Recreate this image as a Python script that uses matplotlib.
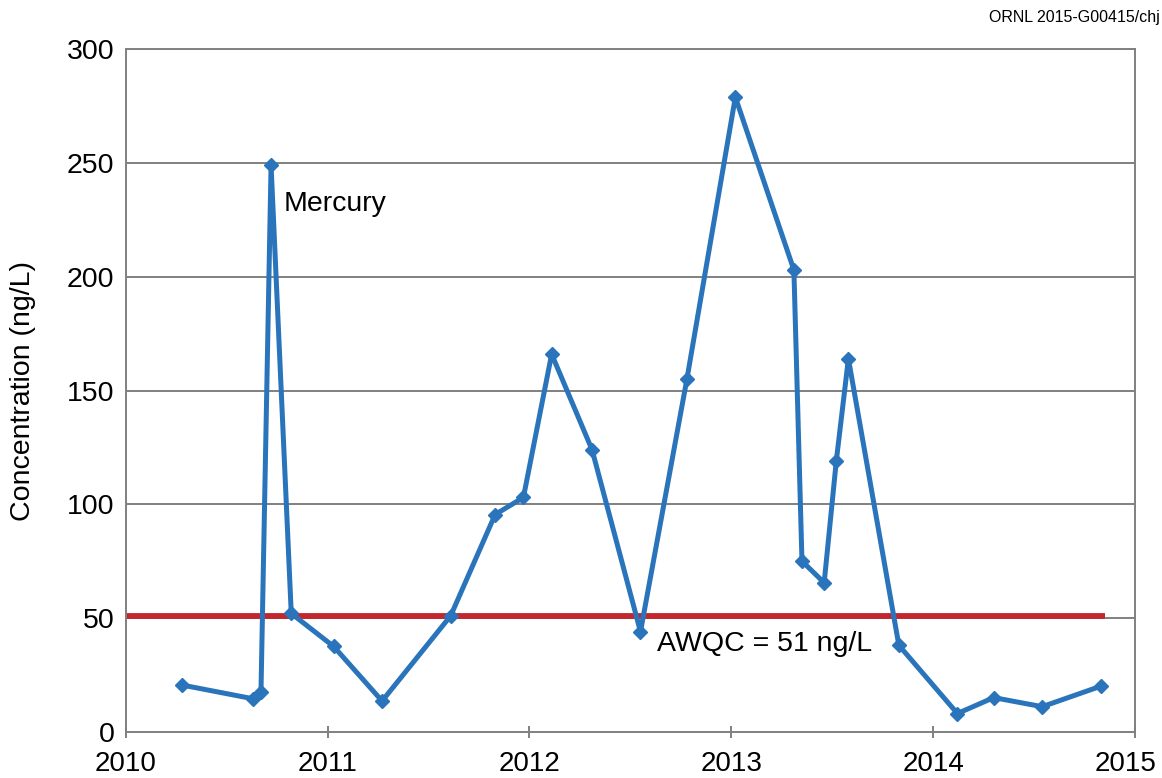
import matplotlib
matplotlib.use("Agg")
import matplotlib.pyplot as plt
import matplotlib.transforms as mtransforms

# sample dates as decimal years, mercury concentration in ng/L
years = [2010.28, 2010.63, 2010.67, 2010.72, 2010.82, 2011.03, 2011.27, 2011.61,
         2011.83, 2011.97, 2012.11, 2012.31, 2012.55, 2012.78, 2013.02, 2013.31,
         2013.35, 2013.46, 2013.52, 2013.58, 2013.83, 2014.12, 2014.30, 2014.54,
         2014.83]
mercury = [20.5, 14.5, 17.5, 249, 52, 37.5, 13.5, 51,
           95.5, 103, 166, 124, 44, 155, 279, 203,
           75, 65.5, 119, 164, 38, 8, 15, 11,
           20]

awqc = 51
awqc_span = [2010.0, 2014.85]
year_ticks = [2010, 2011, 2012, 2013, 2014, 2015]
conc_ticks = [0, 50, 100, 150, 200, 250, 300]

plt.rcParams["font.family"] = ["Liberation Sans", "DejaVu Sans"]

fig = plt.figure(figsize=(11.62, 7.78), dpi=100)
ax = fig.add_axes([0.1082, 0.0595, 0.8686, 0.877])

grid_col = "#808080"
for v in conc_ticks[1:]:
    ax.axhline(v, color=grid_col, lw=1.4, zorder=1)

ax.plot(awqc_span, [awqc, awqc], color="#c1272d", lw=4.2, solid_capstyle="butt", zorder=2)
ax.plot(years, mercury, color="#2a74bb", lw=3.6, marker="D", ms=7.5, zorder=3)

ax.set_xlim(2010, 2015)
ax.set_ylim(0, 300)
ax.set_xticks(year_ticks)
ax.set_yticks(conc_ticks)
ax.tick_params(axis="x", direction="inout", length=9, width=1.4, color=grid_col,
               labelsize=20, pad=9.5)
ax.tick_params(axis="y", length=0, labelsize=20.5, pad=8)
for s in ax.spines.values():
    s.set_color(grid_col)
    s.set_linewidth(1.4)

# last year label sits a little inside the figure edge
last = ax.get_xticklabels()[-1]
last.set_transform(last.get_transform() + mtransforms.ScaledTranslation(-0.09, 0, fig.dpi_scale_trans))

ax.set_ylabel("Concentration (ng/L)", fontsize=20.5, labelpad=22)

ax.text(2010.78, 232, "Mercury", fontsize=20.5, va="center", ha="left")
ax.text(2012.63, 38.5, "AWQC = 51 ng/L", fontsize=20.5, va="center", ha="left")
fig.text(0.998, 0.978, "ORNL 2015-G00415/chj", fontsize=11.5, ha="right", va="center")

fig.savefig("out.png", dpi=100)
